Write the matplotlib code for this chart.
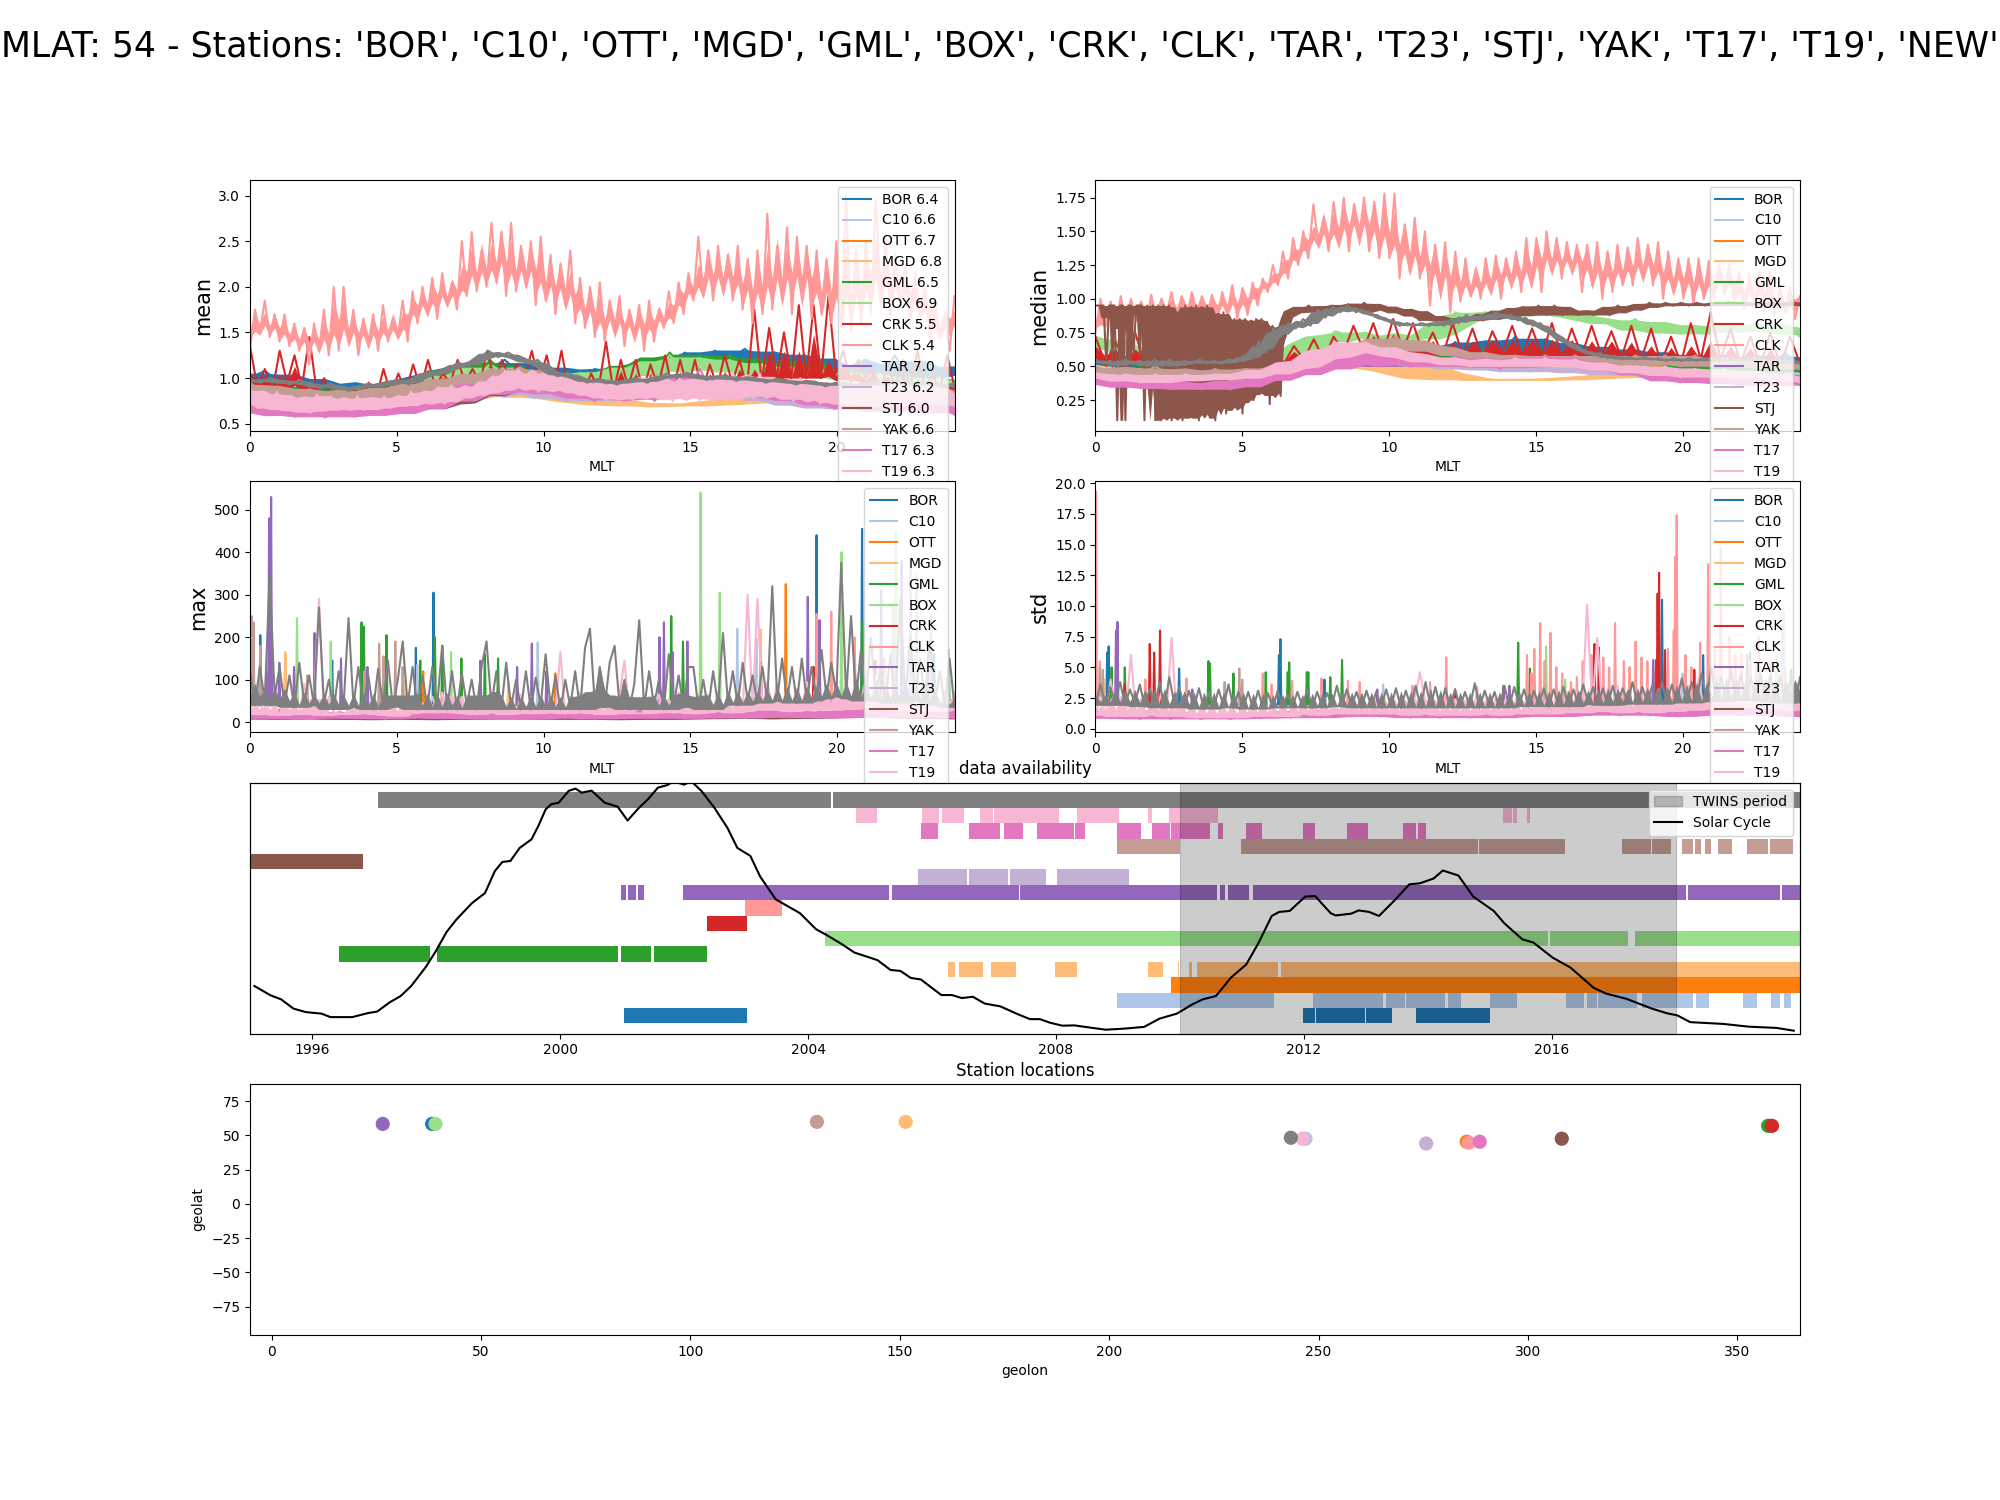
import numpy as np
import matplotlib
matplotlib.use("Agg")
import matplotlib.pyplot as plt
from matplotlib.patches import Patch
from matplotlib.lines import Line2D

stations = ['BOR','C10','OTT','MGD','GML','BOX','CRK','CLK','TAR','T23','STJ','YAK','T17','T19','NEW']
lshell = [6.4,6.6,6.7,6.8,6.5,6.9,5.5,5.4,7.0,6.2,6.0,6.6,6.3,6.3,6.4]
geolon = [38.3,246.9,285.4,151.4,357.4,39.1,358.3,285.9,26.5,275.7,308.1,130.2,288.5,246.2,243.4]
geolat = [58.3,47.5,45.3,59.8,56.9,58.3,56.9,44.6,58.3,44.0,47.5,59.8,45.3,47.5,48.2]

# ---------- mean ----------
mean_BOR=[1.0,1.08,.95,1.02,.9,.98,.85,.92,.88,.95,.92,1.0,1.0,1.1,1.08,1.15,1.1,1.2,1.05,1.15,1.05,1.1,1.0,1.1,1.05,1.12,1.1,1.2,1.15,1.28,1.18,1.3,1.2,1.32,1.2,1.28,1.12,1.25,1.1,1.2,1.0,1.1,.95,1.25,1.0,1.15,1.0,1.1]
mean_C10=[.7,.62,.68,.6,.66,.62,.68,.64,.72,.68,.78,.72,.85,.78,.9,.82,.88,.8,.85,.78,.85,.78,.88,.8,.85,.78,.88,.8,.9,.82,.88,.8,.85,.78,.8,.72,.78,.7,.75,.68,.75,.68,.78,.7,.8,.72,.75,.68]
mean_OTT=[.78,.72,.75,.68,.72,.66,.7,.65,.74,.68,.8,.74,.88,.8,.95,.88,.92,.85,.9,.82,.88,.82,.9,.84,.9,.84,.95,.86,.95,.88,.92,.85,.92,.82,.88,.8,.85,.76,.82,.74,.8,.72,.8,.72,.8,.74,.78,.72]
mean_MGD=[.78,.75,.72,.7,.7,.72,.76,.82,.9,.92,.85,.76,.72,.69,.7,.72,.74,.8,.82,.8,.76,.75,.74,.75]
mean_GML=[1.0,.85,.95,.82,.88,.78,.9,.76,.9,.8,.95,.85,1.05,.95,1.15,1.0,1.2,1.05,1.1,1.0,1.05,.95,1.05,.95,1.1,1.0,1.2,1.05,1.28,1.1,1.25,1.1,1.25,1.05,1.2,1.0,1.15,1.05,1.2,1.05,1.05,.95,1.05,.95,1.0,.9,1.02,.9]
mean_BOX=[.95,.85,.88,.78,.85,.78,.85,.78,.88,.8,.92,.84,1.0,.92,1.1,1.0,1.15,1.05,1.1,1.0,1.05,.95,1.05,.95,1.1,1.0,1.15,1.05,1.25,1.1,1.22,1.08,1.2,1.05,1.15,1.02,1.12,1.02,1.1,1.0,1.05,.95,1.05,.95,1.0,.92,1.0,.9]
mean_CRK=[1.35,.9,1.1,.85,1.3,.95,1.25,.9,1.45,.85,1.0,.78,.85,.72,.9,.75,.95,.78,1.1,.82,1.05,.85,1.15,.88,1.2,.9,1.05,.95,1.2,.95,1.1,.95,1.3,.95,1.2,1.0,1.15,1.0,1.3,.95,1.25,.9,1.3,.85,1.0,.85,1.05,.88,1.4,.85,1.2,.9,1.2,.85,1.15,.9,1.25,.85,1.2,.88,1.2,.85,1.15,.9,1.25,.95,1.2,.9,1.75,.95,1.55,1.0,1.5,1.0,1.8,1.0,1.8,1.0,1.9,1.05,1.3,.95,1.2,1.0,1.1,.85,1.15,.9,1.2,.9,1.3,.85,1.05,.85,1.25,.9]
mean_CLK=[1.3,1.75,1.5,1.85,1.45,1.7,1.4,1.7,1.35,1.6,1.3,1.55,1.15,1.6,1.3,1.75,1.25,2.0,1.3,2.0,1.4,1.75,1.25,1.65,1.35,1.7,1.3,1.8,1.4,1.65,1.45,1.85,1.4,1.95,1.6,2.0,1.7,2.1,1.65,2.15,1.8,2.05,1.75,2.5,1.9,2.6,1.95,2.4,2.0,2.7,2.05,2.6,1.9,2.7,1.95,2.45,2.0,2.5,1.8,2.55,1.85,2.35,1.7,2.25,1.8,2.4,1.6,2.1,1.55,2.0,1.45,2.05,1.4,1.85,1.5,1.9,1.35,1.75,1.45,1.8,1.3,1.85,1.4,1.75,1.55,1.95,1.6,2.05,1.7,2.15,1.85,2.55,1.9,2.4,1.85,2.45,1.95,2.35,1.85,2.45,1.75,2.3,1.6,2.4,1.7,2.8,1.75,2.45,1.85,2.65,1.7,2.55,1.9,2.45,1.65,2.4,1.7,2.3,1.6,2.5,1.55,3.0,1.5,2.4,1.6,2.5,1.7,2.95,1.85,2.6,1.7,2.35,1.8,2.25,1.6,2.15,1.7,2.0,1.4,1.85,1.45,1.7,1.3,1.9]
mean_TAR=[.8,.7,.75,.68,.72,.65,.72,.65,.72,.66,.74,.68,.78,.72,.85,.78,.92,.84,.98,.85,.95,.85,.9,.82,.95,.82,1.0,.85,1.02,.88,1.0,.88,1.0,.85,.95,.82,.95,.8,.9,.78,.9,.76,.88,.76,.85,.75,.82,.74]
mean_T23=[.68,.6,.66,.58,.64,.58,.64,.6,.66,.6,.72,.64,.8,.72,.88,.78,.92,.84,.9,.8,.85,.75,.85,.75,.88,.76,.88,.78,.9,.8,.92,.8,.88,.78,.85,.72,.82,.68,.78,.66,.75,.66,.78,.68,.8,.7,.74,.66]
mean_STJ=[.8,.72,.78,.68,.74,.66,.7,.62,.68,.62,.7,.64,.74,.68,.85,.76,.92,.84,.98,.88,.95,.85,.9,.82,.85,.78,.88,.8,.92,.82,.95,.85,.92,.82,.9,.8,.88,.8,.85,.78,.82,.74,.82,.74,.84,.76,.82,.72]
mean_YAK=[.95,.82,.9,.78,.88,.76,.85,.74,.88,.78,.92,.82,.98,.9,1.02,.92,1.1,1.0,1.12,1.0,1.08,.95,1.0,.88,.95,.85,.98,.88,1.0,.88,1.0,.88,.98,.85,.95,.84,.95,.84,.92,.82,.92,.8,.9,.8,.92,.8,.9,.78]
mean_T17=[.72,.6,.68,.58,.7,.57,.66,.58,.68,.6,.72,.62,.82,.7,.9,.78,1.0,.85,1.0,.85,.95,.8,.85,.75,.95,.78,.9,.75,.95,.8,1.1,.8,.95,.8,.9,.78,.85,.72,.85,.68,.8,.65,.75,.62,.75,.65,.7,.6]
mean_T19=[.9,.68,.82,.66,.85,.65,.8,.63,.78,.62,.82,.65,.8,.65,.76,.66,.8,.65,.78,.66,.8,.68,.78,.7,.85,.7,.84,.74,.9,.72,.92,.76,.88,.8,.95,.82,1.0,.85,1.08,.88,1.1,.9,1.02,.85,1.1,.88,1.05,.85,1.0,.82,.98,.8,.92,.76,.95,.78,.98,.76,1.0,.8,1.02,.78,.95,.75,1.0,.8,.98,.76,1.0,.78,.96,.75,1.05,.8,1.0,.78,1.05,.82,1.0,.78,.98,.75,1.0,.78,.96,.72,.95,.74,.92,.7,.95,.72,.92,.68,.95,.7,.95,.7,.94,.72,.95,.74,.9,.7,.88,.72]
mean_NEW=[.99,.95,1.0,.97,.93,.98,.93,.89,.94,.9,.86,.91,.94,.9,.96,.98,.93,1.0,1.08,1.03,1.1,1.17,1.13,1.2,1.3,1.23,1.28,1.22,1.16,1.2,1.08,1.02,1.06,1.0,.95,.99,.97,.93,.98,1.0,.95,1.0,1.05,1.0,1.06,1.03,.98,1.02,1.03,.97,1.01,1.0,.95,.99,.98,.93,.97,.96,.91,.95,.95,.9,.94,.97,.92,.97,.97,.92,.96,.94,.9,.95]
MEAN=[mean_BOR,mean_C10,mean_OTT,mean_MGD,mean_GML,mean_BOX,mean_CRK,mean_CLK,mean_TAR,mean_T23,mean_STJ,mean_YAK,mean_T17,mean_T19,mean_NEW]

# ---------- median ----------
med_BOR=[.6,.5,.55,.48,.55,.5,.55,.48,.52,.48,.52,.48,.58,.52,.62,.55,.66,.58,.68,.6,.66,.58,.64,.56,.68,.58,.68,.58,.72,.6,.7,.58,.66,.56,.64,.56,.62,.54,.6,.52,.58,.52,.58,.5,.56,.5,.6,.5]
med_C10=[.46,.42,.44,.4,.44,.4,.44,.4,.44,.4,.46,.42,.5,.46,.6,.52,.62,.56,.62,.54,.6,.52,.56,.5,.55,.5,.56,.5,.56,.5,.54,.48,.52,.48,.52,.46,.5,.46,.48,.44,.48,.44,.48,.42,.5,.44,.46,.42]
med_OTT=[.5,.46,.48,.44,.48,.44,.46,.42,.46,.42,.48,.44,.55,.48,.62,.55,.66,.58,.66,.58,.62,.56,.6,.56,.6,.56,.6,.56,.6,.56,.6,.54,.58,.52,.56,.52,.55,.5,.54,.5,.52,.48,.52,.48,.5,.46,.5,.46]
med_MGD=[.5,.48,.46,.46,.46,.46,.5,.55,.6,.58,.5,.42,.4,.4,.4,.4,.42,.42,.46,.5,.5,.5,.52,.52]
med_GML=[.6,.52,.56,.5,.56,.5,.54,.48,.52,.48,.52,.48,.56,.5,.62,.58,.64,.58,.66,.6,.62,.56,.62,.56,.62,.56,.62,.54,.62,.54,.6,.54,.58,.52,.58,.52,.56,.52,.56,.48,.54,.48,.52,.48,.52,.46,.5,.46]
med_BOX=[.72,.68,.62,.6,.58,.56,.54,.52,.52,.5,.52,.5,.54,.52,.7,.66,.76,.72,.75,.7,.72,.68,.75,.72,.9,.86,.9,.86,.92,.88,.92,.88,.88,.84,.84,.78,.85,.75,.82,.74,.8,.74,.8,.76,.82,.76,.8,.72]
med_CRK=[.72,.52,.68,.55,.75,.5,.7,.55,.72,.52,.65,.5,.62,.48,.6,.5,.62,.5,.66,.52,.65,.55,.7,.55,.72,.6,.8,.62,.82,.6,.85,.62,.82,.6,.75,.58,.82,.58,.78,.56,.76,.6,.8,.58,.78,.58,.82,.56,.78,.58,.8,.58,.76,.56,.8,.55,.78,.52,.72,.52,.82,.55,.9,.55,.78,.52,.72,.5,.75,.5,.72,.52]
med_CLK=[.75,1.0,.8,.98,.78,1.02,.8,1.0,.85,.98,.82,1.03,.85,1.0,.88,1.05,.86,1.02,.85,1.05,.9,1.02,.85,1.03,.82,1.05,.9,1.1,.85,1.08,.88,1.12,.95,1.15,1.05,1.25,1.1,1.35,1.15,1.45,1.25,1.5,1.3,1.7,1.4,1.6,1.35,1.72,1.4,1.75,1.35,1.7,1.45,1.75,1.35,1.72,1.3,1.78,1.3,1.78,1.15,1.55,1.2,1.6,1.15,1.5,.95,1.4,1.05,1.42,.9,1.35,.98,1.3,1.02,1.22,1.0,1.3,1.05,1.32,1.0,1.3,1.1,1.35,1.05,1.45,1.1,1.45,1.05,1.5,1.2,1.45,1.15,1.42,1.2,1.4,1.05,1.4,1.1,1.42,1.0,1.35,1.05,1.4,1.1,1.38,1.1,1.45,1.15,1.4,1.1,1.42,1.0,1.35,1.05,1.3,1.0,1.3,.95,1.3,1.0,1.28,1.0,1.25,1.05,1.25,.95,1.2,.92,1.18,.95,1.2,.9,1.2,.88,1.1,.9,1.08,.85,1.02]
med_TAR=[.44,.4,.42,.38,.42,.38,.42,.38,.42,.38,.44,.4,.5,.44,.52,.5,.52,.5,.54,.5,.52,.5,.52,.5,.54,.5,.54,.5,.54,.5,.54,.5,.54,.5,.52,.48,.5,.46,.48,.44,.46,.42,.46,.42,.46,.42,.44,.42]
med_T23=[.44,.38,.42,.36,.42,.36,.42,.38,.42,.38,.44,.4,.5,.44,.56,.5,.6,.54,.58,.52,.55,.5,.54,.48,.52,.48,.52,.46,.52,.46,.52,.46,.5,.44,.48,.44,.46,.42,.44,.4,.44,.38,.44,.38,.44,.4,.42,.36]
# STJ: 70 values up to MLT 6.4, then the rest up to MLT 24
med_STJ_night=[.95,.95,.95,.95,.5,.95,.95,.95,.1,.95,.95,.1,.95,.95,.6,.95,.95,.95,.1,.95,.4,.95,.1,.95,.1,.95,.12,.95,.1,.9,.12,.9,.1,.95,.12,.9,.12,.95,.1,.9,.15,.95,.12,.9,.1,.85,.2,.9,.15,.85,.18,.85,.2,.85,.15,.85,.25,.8,.25,.85,.3,.85,.3,.8,.22,.8,.3,.75,.28,.8]
med_STJ_day=[.88,.92,.9,.95,.9,.93,.95,.92,.96,.9,.97,.92,.95,.9,.93,.88,.92,.84,.88,.84,.86,.82,.86,.84,.86,.84,.9,.85,.92,.86,.94,.88,.95,.88,.95,.88,.92,.88,.9,.88,.92,.88,.95,.9,.95,.92,.97,.94,.97,.95,.97,.95,.97,.95,.97,.95,.98,.95,.97,.95,.98,.95,.97,.95,.98,.95]
med_YAK=[.5,.45,.48,.44,.5,.43,.47,.43,.48,.43,.48,.44,.5,.46,.55,.5,.6,.54,.7,.62,.72,.64,.68,.6,.62,.55,.6,.54,.58,.52,.58,.52,.58,.52,.58,.5,.58,.52,.58,.5,.58,.5,.55,.5,.56,.48,.54,.48]
med_T17=[.44,.35,.4,.34,.4,.33,.38,.33,.38,.33,.42,.36,.46,.42,.55,.45,.6,.5,.6,.52,.58,.5,.56,.5,.58,.5,.55,.48,.56,.5,.58,.5,.56,.48,.52,.46,.48,.4,.46,.38,.45,.38,.44,.36,.44,.36,.42,.36]
med_T19=[.45,.4,.44,.38,.44,.38,.44,.4,.44,.4,.46,.42,.5,.46,.58,.52,.68,.6,.68,.6,.62,.54,.58,.52,.56,.5,.54,.5,.56,.5,.56,.5,.55,.48,.52,.46,.5,.44,.5,.42,.48,.42,.48,.42,.46,.4,.44,.38]
med_NEW=[.55,.52,.54,.5,.55,.52,.54,.5,.55,.5,.55,.5,.54,.52,.55,.52,.54,.52,.55,.53,.58,.55,.68,.6,.78,.72,.82,.78,.85,.8,.92,.86,.94,.9,.95,.91,.92,.88,.88,.84,.84,.8,.82,.8,.82,.8,.83,.8,.85,.82,.88,.84,.88,.85,.9,.86,.88,.84,.86,.8,.82,.76,.74,.68,.68,.62,.62,.58,.6,.56,.58,.55,.57,.55,.57,.55,.56,.54,.56,.54,.56,.54,.56,.54,.56,.54,.56,.54,.56,.54,.56,.52,.56,.52,.55,.52]
MEDIAN=[med_BOR,med_C10,med_OTT,med_MGD,med_GML,med_BOX,med_CRK,med_CLK,med_TAR,med_T23,None,med_YAK,med_T17,med_T19,med_NEW]

# ---------- max: peak hours and heights, except for the dense bands ----------
max_BOR_h=[.35,2.8,5.65,6.25,19.3,20.85,23.3]; max_BOR_v=[205,145,175,305,440,455,160]
max_C10_h=[5.7,9.8,16.6,17.25,22.7]; max_C10_v=[135,188,220,195,290]
max_OTT_h=[1.2,5.9,10.4,18.25,21.6]; max_OTT_v=[160,120,115,325,150]
max_MGD_h=[1.2,5.3,8.8,17.4,21.9]; max_MGD_v=[165,100,95,218,180]
max_GML_h=[3.8,3.88,4.65,5.8,6.3,6.55,7.2,8.0,8.45,14.35,14.75,20.85,23.8]; max_GML_v=[235,225,205,145,200,180,150,160,150,250,190,235,170]
max_BOX_h=[1.6,2.75,6.85,15.35,16.0,20.15,22.0,22.7,23.8]; max_BOX_v=[245,190,165,540,305,400,450,345,170]
max_CRK_h=[19.2,19.3,19.4,21.3]; max_CRK_v=[130,190,120,145]
max_CLK_h=[19.3,19.8,20.6,22.5]; max_CLK_v=[255,260,200,230]
max_TAR_h=[.55,.65,.72,1.0,1.5,2.2,3.1,4.0,7.85,9.1,9.6,10.1,13.95,14.1,14.4,14.9,17.4,19.0,19.4,21.5,22.2,23.1]; max_TAR_v=[120,480,530,140,130,210,150,130,145,130,185,120,200,235,165,190,140,295,240,310,380,160]
max_T23_h=[21.9,22.5,23.2]; max_T23_v=[280,380,250]
max_YAK_h=[.05,.12,.35,4.4,4.55,4.95,5.2,1.95,3.9]; max_YAK_v=[250,235,180,185,155,190,130,110,120]
max_STJ=[9,8,9,8,7,8,7,8,9,9,8,8,7,8,8,10,11,9,10,12,13,12,10,9]
max_T17=[28,9,30,8,26,10,24,9,22,8,25,10,28,9,24,8,30,9,26,8,28,10,24,8,26,9,28,9,26,9,30,10,32,10,30,12,28,11,26,10,30,12,34,11,36,12,30,10]
max_T19=[30,55,18,60,22,40,16,55,22,45,18,90,20,55,290,16,60,22,24,50,18,50,20,40,24,50,18,60,16,50,14,55,20,60,22,45,25,60,22,70,24,65,22,60,20,55,18,50,22,60,25,55,18,50,20,65,22,60,20,55,22,60,24,165,20,60,22,70,25,60,20,55,18,60,22,65,145,20,24,55,20,60,22,65,25,55,22,70,24,60,20,65,22,65,25,70,25,60,22,75,25,300,30,290,28,95,35,90,28,85,25,80,30,95,28,100,32,85,28,95,35,95,30,110,35,120,40,110,35,120,30,100,28,90,30,95,25,70,30,85,25,75,30,70]
max_NEW=[120,40,130,50,350,60,130,40,110,35,140,45,110,40,270,45,100,30,120,40,245,40,130,35,110,30,125,40,145,35,100,190,40,130,30,110,35,130,40,180,30,120,30,115,40,100,30,130,190,40,120,30,140,35,100,30,120,30,105,40,160,35,110,30,100,35,120,30,175,220,40,130,35,140,180,40,100,30,90,240,35,120,40,100,30,160,40,110,35,130,130,35,100,30,120,40,210,45,120,40,140,50,110,45,130,50,320,55,150,50,130,45,150,50,130,55,170,60,140,65,375,60,250,55,170,50,200,60,130,50,160,45,290,55,200,60,150,50,190,45,120,40,150,35]

# ---------- std: peak hours and heights, except for the dense bands ----------
std_BOR_h=[.4,.45,2.85,6.25,6.3,7.8,19.1,19.3,20.7,23.4]; std_BOR_v=[6.2,6.7,4.9,6.0,7.3,4.0,5.6,10.5,6.0,5.0]
std_C10_h=[9.8,20.0,23.4,23.45]; std_C10_v=[3.6,4.5,8.5,9.5]
std_OTT_h=[1.0,18.2,19.0]; std_OTT_v=[3.5,5.0,4.8]
std_MGD_h=[.3,13.0,22.0]; std_MGD_v=[4.0,2.8,5.5]
std_GML_h=[.55,1.0,3.85,3.9,4.7,5.8,6.55,6.6,7.2,7.25,8.0,8.4,14.4,14.8,22.3,23.7]; std_GML_v=[5.0,5.0,5.5,5.3,4.5,4.6,4.6,5.4,4.6,4.6,4.2,5.6,7.0,4.9,6.2,4.8]
std_BOX_h=[15.35,16.0,22.0,23.2]; std_BOX_v=[6.7,4.0,6.2,6.0]
std_CRK_h=[1.0,1.85,2.0,2.2,12.25,17.0,17.15,19.15,19.2,19.4,20.4]; std_CRK_v=[3.6,6.9,6.2,8.0,3.2,6.9,6.6,11.0,12.7,6.4,4.8]
std_CLK_h=[.02,.15,1.7,3.1,5.7,6.0,6.7,7.7,8.6,9.0,10.8,11.4,11.95,13.0,14.7,14.85,14.95,15.15,15.3,15.5,15.7,15.9,16.2,16.4,16.6,16.9,17.3,17.5,17.7,18.0,18.2,18.4,18.6,18.8,19.5,19.7,19.75,19.8,20.1,20.3,20.6,20.87,21.1,21.3,21.6,21.8,22.0,22.3,22.6,23.0,23.5]; std_CLK_v=[19.3,5.5,4.0,4.1,4.5,3.6,3.9,4.1,3.9,3.8,3.5,3.8,5.8,3.4,6.0,4.5,6.5,8.6,5.5,7.8,5.0,4.5,3.8,4.2,5.5,6.0,5.8,5.0,8.6,5.5,5.0,7.1,5.8,5.5,6.5,8.0,14.0,17.4,6.0,5.0,7.0,13.4,6.5,14.7,7.5,6.0,6.0,5.5,7.5,5.5,4.8]
std_TAR_h=[.7,.75,3.3,9.6,13.9,14.1,19.0,22.2,22.6]; std_TAR_v=[8.0,8.7,3.2,3.2,3.5,3.5,5.6,6.0,5.0]
std_T23_h=[22.5]; std_T23_v=[5.5]
std_YAK_h=[.15,.25,4.4,4.9,5.0,13.0]; std_YAK_v=[5.0,4.8,3.8,4.9,4.0,3.0]
std_STJ=[1.0,1.1,1.0,1.05,1.0,1.1,1.05,1.1,1.2,1.35,1.4,1.35,1.2,1.1,1.1,1.15,1.25,1.3,1.25,1.3,1.4,1.3,1.3,1.2]
std_T17=[1.5,.85,1.4,.8,1.5,.8,1.3,.8,1.2,.8,1.3,.85,1.4,.9,1.5,.9,1.6,1.0,1.5,1.0,1.4,.9,1.3,.9,1.4,.9,1.5,.9,1.5,1.0,1.7,1.0,1.8,1.1,1.7,1.1,1.6,1.1,1.6,1.0,1.7,1.1,1.8,1.1,1.7,1.1,1.7,1.0]
std_T19=[1.2,2.6,1.1,4.0,1.0,2.6,1.2,6.0,1.0,2.4,1.1,2.0,1.2,3.0,1.0,7.4,1.1,2.2,1.0,2.2,.9,2.0,1.0,2.0,.9,2.1,1.1,2.0,.9,2.0,1.0,2.2,1.0,2.1,1.1,2.0,1.0,2.2,1.0,2.1,1.2,2.3,1.2,2.4,1.1,2.3,1.2,2.5,1.3,2.3,1.2,2.5,1.2,2.4,1.2,2.4,1.3,2.5,1.2,2.3,1.2,2.3,1.1,2.5,4.6,2.4,1.2,2.3,1.1,2.3,1.2,2.4,1.1,2.3,1.1,2.4,1.2,2.3,1.2,2.5,1.1,2.5,1.2,2.4,1.2,2.4,1.2,2.5,1.3,2.6,1.2,2.7,1.3,3.0,1.4,3.0,1.3,10.1,1.5,7.4,1.4,3.2,1.4,3.5,1.3,3.0,1.4,3.2,1.4,3.5,1.3,3.2,1.5,3.4,1.4,3.6,1.6,3.5,1.5,4.2,1.6,3.5,1.7,5.0,1.8,4.5,1.9,4.2,1.7,4.0,1.8,4.5,1.8,4.2,1.7,4.0,1.6,3.8,1.5,3.6]
std_NEW=[2.0,3.6,1.9,3.4,2.2,3.8,1.9,3.2,2.1,3.6,1.8,3.3,1.8,3.8,1.7,4.2,2.0,3.4,1.8,3.1,1.7,3.3,1.6,3.0,1.7,3.2,1.8,3.6,1.7,3.0,1.7,3.0,1.6,3.1,1.7,2.9,1.7,3.1,1.7,2.8,1.8,3.0,1.8,3.2,1.7,3.0,1.8,2.9,1.9,3.5,1.8,3.2,1.9,3.0,1.7,3.1,1.8,3.0,1.7,3.2,1.8,3.3,1.7,3.1,1.8,3.5,1.7,3.8,1.8,3.4,1.7,3.3,1.8,3.2,1.7,3.0,1.8,3.7,1.7,3.1,1.8,3.0,1.7,3.5,1.8,3.4,1.9,3.2,1.8,3.1,1.9,3.3,1.8,3.2,1.9,3.4,1.8,3.2,2.0,3.6,2.1,3.4,2.0,3.3,1.9,3.5,2.0,3.3,2.2,3.8,2.0,3.4,2.1,3.5,2.0,3.8,2.1,3.6,2.2,4.1,2.1,3.8,2.3,4.5,2.3,5.0,2.2,4.2,2.4,4.8,2.3,4.5,2.3,4.2,2.4,4.5,2.3,4.3,2.2,4.3,2.1,4.0,2.1,4.2]

# ---------- data availability: start and end years for each station ----------
avail_BOR=[(2001.03,2003.01),(2011.98,2012.18),(2012.2,2012.98),(2013.0,2013.42),(2013.81,2015.0)]
avail_C10=[(2008.99,2011.52),(2012.14,2013.28),(2013.32,2013.63),(2013.65,2014.28),(2014.32,2014.54),(2015.0,2015.44),(2016.22,2016.52),(2016.57,2016.72),(2016.74,2017.22),(2017.23,2017.37),(2017.45,2018.28),(2018.32,2018.54),(2019.08,2019.3),(2019.53,2019.68),(2019.74,2019.86)]
avail_OTT=[(2009.86,2020.0)]
avail_MGD=[(2006.25,2006.37),(2006.44,2006.83),(2006.95,2007.35),(2007.98,2008.34),(2009.48,2009.73),(2009.96,2009.99),(2010.14,2010.2),(2010.28,2011.58),(2011.63,2020.0)]
avail_GML=[(1996.43,1997.91),(1998.01,2000.94),(2000.98,2001.46),(2001.51,2002.37)]
avail_BOX=[(2004.28,2015.93),(2015.97,2017.22),(2017.34,2020.0)]
avail_CRK=[(2002.37,2003.01)]
avail_CLK=[(2002.99,2003.58)]
avail_TAR=[(2000.99,2001.07),(2001.09,2001.22),(2001.26,2001.35),(2001.99,2005.31),(2005.36,2007.4),(2007.42,2010.59),(2010.65,2010.72),(2010.77,2011.12),(2011.17,2018.16),(2018.2,2019.67),(2019.71,2020.0)]
avail_T23=[(2005.77,2006.57),(2006.6,2007.22),(2007.25,2007.84),(2008.02,2009.18)]
avail_STJ=[(1995.0,1996.83)]
avail_YAK=[(2008.99,2010.0),(2010.99,2014.81),(2014.83,2016.21),(2017.13,2017.6),(2017.61,2017.92),(2018.1,2018.27),(2018.3,2018.4),(2018.46,2018.57),(2018.67,2018.91),(2019.14,2019.49),(2019.51,2019.88)]
avail_T17=[(2005.82,2006.09),(2006.6,2007.1),(2007.16,2007.47),(2007.7,2008.29),(2008.31,2008.46),(2008.99,2009.37),(2009.55,2009.84),(2009.85,2010.49),(2010.62,2010.7),(2011.07,2011.33),(2011.98,2012.18),(2012.7,2013.04),(2013.6,2013.81),(2013.84,2013.97)]
avail_T19=[(2004.77,2005.11),(2005.84,2006.11),(2006.16,2006.52),(2006.77,2006.98),(2007.0,2008.05),(2008.34,2009.01),(2009.48,2009.55),(2009.82,2010.62),(2015.21,2015.35),(2015.37,2015.44),(2015.6,2015.64)]
avail_NEW=[(1997.07,2004.37),(2004.41,2020.0)]
AVAIL=[avail_BOR,avail_C10,avail_OTT,avail_MGD,avail_GML,avail_BOX,avail_CRK,avail_CLK,avail_TAR,avail_T23,avail_STJ,avail_YAK,avail_T17,avail_T19,avail_NEW]

solar_year=[1995.07,1995.33,1995.5,1995.7,1995.9,1996.15,1996.3,1996.65,1996.9,1997.05,1997.26,1997.43,1997.6,1997.84,1998.0,1998.17,1998.33,1998.58,1998.79,1998.95,1999.07,1999.2,1999.35,1999.54,1999.65,1999.77,1999.86,1999.98,2000.14,2000.25,2000.35,2000.51,2000.72,2000.93,2001.09,2001.26,2001.42,2001.58,2001.73,2001.83,2002.0,2002.12,2002.28,2002.49,2002.7,2002.86,2003.07,2003.23,2003.48,2003.6,2003.87,2004.13,2004.3,2004.55,2004.75,2005.12,2005.33,2005.49,2005.66,2005.82,2006.15,2006.32,2006.48,2006.66,2006.85,2007.1,2007.39,2007.58,2007.74,2007.9,2008.1,2008.3,2008.56,2008.8,2009.09,2009.42,2009.67,2009.95,2010.2,2010.37,2010.58,2010.82,2011.07,2011.27,2011.48,2011.6,2011.77,2012.02,2012.18,2012.43,2012.51,2012.76,2012.88,2013.05,2013.21,2013.46,2013.7,2013.87,2014.09,2014.24,2014.49,2014.73,2015.06,2015.23,2015.52,2015.7,2016.01,2016.3,2016.67,2016.87,2017.2,2017.61,2017.86,2018.02,2018.23,2018.76,2019.17,2019.62,2019.9]
solar_val=[19,15.3,13.7,10,8.6,8,6.6,6.6,8.2,8.8,12.6,15,19,26.7,33,40.5,45.5,52,56,64.8,68.4,68.8,74,77.4,82.7,89.4,91.4,92,96.7,97.6,96,96.8,92,90.4,84.9,89.6,93.4,98,99,100.5,99.2,100.5,96.7,90,82,74,70.8,62.5,53.5,51.8,48,41.6,39.3,35.6,32.3,29.3,25.4,25,22.2,21.6,15.4,15.4,14.2,14.7,12,10.9,7.7,5.8,5.8,4.4,3.2,3.3,2.4,1.6,2,2.7,6,8,11.7,13.7,15,22.3,27.6,36.3,46.9,48.5,48.9,54.6,54.8,48,47.1,47.8,49.1,48.5,46.9,53.1,59.5,59.9,61.8,65,63,54.6,48.9,44,37.6,36.3,30.3,26.3,18.3,16,13.9,10,8.1,7.3,4.6,3.9,2.8,2.3,1.2]

cols = [plt.get_cmap('tab20')(i) for i in range(15)]
base_max = 40.0
base_std = 2.0

def grid(vals):
    return np.linspace(0, 24, len(vals))

def spikes(h, v, base):
    xs, ys = [], []
    for a, b in zip(h, v):
        xs += [a-0.03, a, a+0.03, np.nan]
        ys += [base, b, base, np.nan]
    return xs, ys

def dense(ax, x, vals, i, lo=10, hi=90, win=5, label=None):
    v = np.asarray(vals, float)
    n = len(v)
    low = np.empty(n); up = np.empty(n)
    for k in range(n):
        w = v[max(0, k-win//2):k+win//2+1]
        low[k], up[k] = np.percentile(w, [lo, hi])
    z = 2 + i*0.01
    ax.fill_between(x, low, up, color=cols[i], lw=0, zorder=z)
    ax.plot(x, v, color=cols[i], label=label, zorder=z)

def spiked(ax, h, v, base, i, label):
    x, y = spikes(h, v, base)
    ax.plot(x, y, color=cols[i], label=label, zorder=2 + i*0.01)

fig = plt.figure(figsize=(20, 15), dpi=100)
gs = fig.add_gridspec(4, 2)
ax_mean = fig.add_subplot(gs[0, 0])
ax_med = fig.add_subplot(gs[0, 1])
ax_max = fig.add_subplot(gs[1, 0])
ax_std = fig.add_subplot(gs[1, 1])
ax_av = fig.add_subplot(gs[2, :])
ax_loc = fig.add_subplot(gs[3, :])

opts = {'CLK': (35, 60, 5), 'CRK': (10, 40, 5), 'NEW': (15, 85, 3)}
for i, s in enumerate(stations):
    lo, hi, win = opts.get(s, (15, 85, 5))
    dense(ax_mean, grid(MEAN[i]), MEAN[i], i, lo, hi, win, label=f"{s} {lshell[i]:.1f}")
    if s == 'STJ':
        x = np.concatenate([np.linspace(0, 6.4, len(med_STJ_night)), np.linspace(6.45, 24, len(med_STJ_day))])
        dense(ax_med, x, med_STJ_night + med_STJ_day, i, 20, 95, 5, label=s)
    else:
        dense(ax_med, grid(MEDIAN[i]), MEDIAN[i], i, lo, hi, win, label=s)

max_peaks = [(max_BOR_h,max_BOR_v),(max_C10_h,max_C10_v),(max_OTT_h,max_OTT_v),(max_MGD_h,max_MGD_v),(max_GML_h,max_GML_v),(max_BOX_h,max_BOX_v),(max_CRK_h,max_CRK_v),(max_CLK_h,max_CLK_v),(max_TAR_h,max_TAR_v),(max_T23_h,max_T23_v)]
for i, (h, v) in enumerate(max_peaks):
    spiked(ax_max, h, v, base_max, i, stations[i])
dense(ax_max, grid(max_STJ), max_STJ, 10, 0, 100, 3, label='STJ')
spiked(ax_max, max_YAK_h, max_YAK_v, base_max, 11, 'YAK')
dense(ax_max, grid(max_T17), max_T17, 12, 0, 100, 3, label='T17')
dense(ax_max, grid(max_T19), max_T19, 13, 0, 50, 5, label='T19')
dense(ax_max, grid(max_NEW), max_NEW, 14, 0, 40, 7, label='NEW')

std_peaks = [(std_BOR_h,std_BOR_v),(std_C10_h,std_C10_v),(std_OTT_h,std_OTT_v),(std_MGD_h,std_MGD_v),(std_GML_h,std_GML_v),(std_BOX_h,std_BOX_v),(std_CRK_h,std_CRK_v),(std_CLK_h,std_CLK_v),(std_TAR_h,std_TAR_v),(std_T23_h,std_T23_v)]
for i, (h, v) in enumerate(std_peaks):
    spiked(ax_std, h, v, base_std, i, stations[i])
dense(ax_std, grid(std_STJ), std_STJ, 10, 0, 100, 3, label='STJ')
spiked(ax_std, std_YAK_h, std_YAK_v, base_std, 11, 'YAK')
dense(ax_std, grid(std_T17), std_T17, 12, 0, 100, 3, label='T17')
dense(ax_std, grid(std_T19), std_T19, 13, 0, 50, 5, label='T19')
dense(ax_std, grid(std_NEW), std_NEW, 14, 0, 50, 7, label='NEW')

for ax, name, yl in [(ax_mean,'mean',(0.42,3.17)),(ax_med,'median',(0.02,1.88)),(ax_max,'max',(-24,567)),(ax_std,'std',(-0.3,20.15))]:
    ax.set_xlim(0, 24)
    ax.set_ylim(*yl)
    ax.set_xlabel('MLT')
    ax.set_ylabel(name, fontsize=15)
    ax.legend(loc='upper right').set_zorder(10)

for i, segs in enumerate(AVAIL):
    ax_av.broken_barh([(a, b-a) for a, b in segs], (i-0.5, 1), color=cols[i], lw=0)
ax_av.axvspan(2010, 2018, color='k', alpha=0.2, lw=0.8)
ax_av.set_xlim(1995, 2020)
ax_av.set_ylim(-1.17, 15.13)
ax_av.set_yticks([])
ax_av.set_xticks([1996,2000,2004,2008,2012,2016])
ax_av.set_title('data availability')
ax_sol = ax_av.twinx()
ax_sol.plot(solar_year, solar_val, color='k')
ax_sol.set_ylim(0, 100)
ax_sol.set_yticks([])
ax_sol.legend(handles=[Patch(color='k', alpha=0.2, label='TWINS period'), Line2D([], [], color='k', label='Solar Cycle')], loc='upper right')

ax_loc.scatter(geolon, geolat, c=cols, s=85)
ax_loc.set_xlim(-5.2, 365)
ax_loc.set_ylim(-95.8, 87.5)
ax_loc.set_xlabel('geolon')
ax_loc.set_ylabel('geolat')
ax_loc.set_title('Station locations')

fig.suptitle("MLAT: 54 - Stations: " + ", ".join(repr(s) for s in stations), fontsize=25)
fig.savefig('out.png', dpi=100)
